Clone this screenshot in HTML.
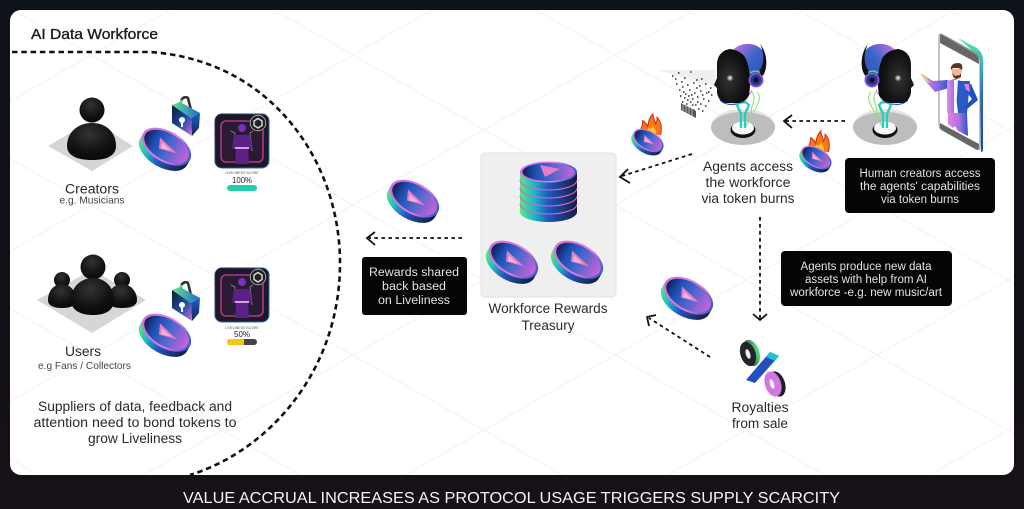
<!DOCTYPE html>
<html><head><meta charset="utf-8"><style>
html,body{margin:0;padding:0;background:#100f15;width:1024px;height:509px;overflow:hidden}
svg{display:block}
text{font-family:"Liberation Sans",sans-serif}
.l{font-size:13.5px;fill:#2a2a2a;text-anchor:middle}
.w{font-size:11.5px;fill:#e2e2e2;text-anchor:middle}
.s{font-size:10.5px;fill:#444;text-anchor:middle}
.d{fill:none;stroke:#111;stroke-width:1.8;stroke-dasharray:3.6 3.4}
.h{fill:none;stroke:#111;stroke-width:1.8}
</style></head><body>
<svg xmlns="http://www.w3.org/2000/svg" width="1024" height="509" viewBox="0 0 1024 509">
<defs>
<linearGradient id="bg" x1="0" y1="0" x2="0" y2="1"><stop offset="0" stop-color="#0e1319"/><stop offset=".55" stop-color="#111015"/><stop offset="1" stop-color="#171118"/></linearGradient>
<linearGradient id="cTop" x1="0" y1="0" x2="1" y2="0"><stop offset="0" stop-color="#121f50"/><stop offset=".25" stop-color="#1c50b4"/><stop offset=".55" stop-color="#4a68cc"/><stop offset="1" stop-color="#d060d8"/></linearGradient>
<linearGradient id="cSide" x1="0" y1="0" x2="1" y2="0"><stop offset="0" stop-color="#5be87a"/><stop offset=".22" stop-color="#22c0c0"/><stop offset=".5" stop-color="#1f58c0"/><stop offset="1" stop-color="#141c3c"/></linearGradient>
<linearGradient id="cRim" x1="0" y1="0" x2="1" y2="0"><stop offset="0" stop-color="#d070e0"/><stop offset=".6" stop-color="#e878e0"/><stop offset="1" stop-color="#2a60d0"/></linearGradient>
<linearGradient id="lock" x1="0" y1="0" x2="1" y2="1"><stop offset="0" stop-color="#101a34"/><stop offset=".55" stop-color="#1c4ea8"/><stop offset="1" stop-color="#d070e0"/></linearGradient>
<linearGradient id="lockR" x1="0" y1="0" x2="0" y2="1"><stop offset="0" stop-color="#2060c8"/><stop offset="1" stop-color="#142450"/></linearGradient>
<linearGradient id="lockT" x1="0" y1="0" x2="1" y2="0"><stop offset="0" stop-color="#60e880"/><stop offset="1" stop-color="#2068d0"/></linearGradient>
<linearGradient id="nb" x1="0" y1="0" x2="1" y2="1"><stop offset="0" stop-color="#2a2a50"/><stop offset="1" stop-color="#3078d8"/></linearGradient>
<linearGradient id="brain" x1="0" y1="0" x2="1" y2="1"><stop offset="0" stop-color="#d070e0"/><stop offset=".45" stop-color="#3c64cc"/><stop offset="1" stop-color="#2248a8"/></linearGradient>
<linearGradient id="ph" x1="0" y1="0" x2="0" y2="1"><stop offset="0" stop-color="#60e890"/><stop offset=".2" stop-color="#20c8c8"/><stop offset=".5" stop-color="#2068d0"/><stop offset="1" stop-color="#1848a8"/></linearGradient>
<linearGradient id="man" x1="0" y1="0" x2="1" y2="0"><stop offset="0" stop-color="#d080e4"/><stop offset=".55" stop-color="#7a68dc"/><stop offset="1" stop-color="#2a58c8"/></linearGradient>
<linearGradient id="pnk" x1="0" y1="0" x2="1" y2="0"><stop offset="0" stop-color="#e090e8"/><stop offset="1" stop-color="#a070e0"/></linearGradient>
<linearGradient id="leg" x1="0" y1="0" x2="1" y2="0"><stop offset="0" stop-color="#e080e8"/><stop offset=".55" stop-color="#b070e0"/><stop offset="1" stop-color="#2058c8"/></linearGradient>
<linearGradient id="pg" x1="0" y1="0" x2="1" y2="0"><stop offset="0" stop-color="#101820"/><stop offset="1" stop-color="#60e880"/></linearGradient>
<radialGradient id="b" cx=".45" cy=".3" r=".8"><stop offset="0" stop-color="#333"/><stop offset=".6" stop-color="#111"/><stop offset="1" stop-color="#050505"/></radialGradient>
<radialGradient id="hd" cx=".42" cy=".55" r=".6"><stop offset="0" stop-color="#333"/><stop offset=".7" stop-color="#141414"/><stop offset="1" stop-color="#0a0a0a"/></radialGradient>
<radialGradient id="gl"><stop offset="0" stop-color="#fff"/><stop offset="1" stop-color="#fff" stop-opacity="0"/></radialGradient>
<pattern id="iso" width="262" height="150" patternUnits="userSpaceOnUse" patternTransform="translate(-40 -20)">
<path d="M0 0L262 150M262 0L0 150" stroke="#f5f5f5" stroke-width="1.4" fill="none"/>
</pattern>
<g id="coin">
<g transform="rotate(30)">
<path d="M-27 -1v6a27 15.500 0 0 0 54 0v-6z" fill="url(#cSide)"/>
<ellipse cx="0" cy="-1" rx="27" ry="15.500" fill="url(#cRim)"/>
<ellipse cx="0" cy="-1" rx="24.500" ry="13.500" fill="url(#cTop)"/>
</g>
<path d="M-6 -10L11 6L-7 1Z" fill="#e67cc8"/>
<path d="M-4 -5L5 3L-5 1Z" fill="#f3b0dc"/>
</g>
<g id="lockg">
<path d="M8 8L10 2Q13 -1 16 1L19 13" fill="none" stroke="#333" stroke-width="2.600"/>
<path d="M8 8L10 3" fill="none" stroke="#60e880" stroke-width="2.600"/>
<path d="M0 8L8 5L28 16L19 21Z" fill="url(#lockT)"/>
<path d="M19 21L28 16L27 31L20 39Z" fill="url(#lockR)"/>
<path d="M0 8L19 21L20 39L0 26Z" fill="url(#lock)"/>
<circle cx="10" cy="23" r="3" fill="#fff"/><rect x="9" y="24" width="2" height="6" fill="#fff"/>
</g>
<g id="nft">
<rect x="0" y="0" width="54" height="54" rx="7" fill="#1c1826" stroke="url(#nb)" stroke-width="1"/>
<rect x="6" y="7" width="42" height="41" rx="5" fill="#2a1a34" stroke="#b0387e" stroke-width="1.600"/>
<path d="M16 17l4 2-1 16M38 17l-3 2 2 18" stroke="#7c7c90" stroke-width="1" fill="none"/>
<circle cx="27" cy="14" r="4" fill="#7a2fb8"/>
<path d="M19 21L35 21L37 34L33 35L34 50L20 50L21 35L17 34Z" fill="#5c2184"/>
<rect x="20" y="33" width="14" height="2" fill="#d8a0e8"/>
<circle cx="43" cy="9" r="8.500" fill="#222"/><circle cx="43" cy="9" r="7.800" fill="none" stroke="#bbb" stroke-width=".8"/>
<path d="M43 4.500L47 7V11.500L43 14L39 11.500V7Z" fill="none" stroke="#ddd" stroke-width="1.400"/>
</g>
<g id="flame">
<path d="M-13 12C-15 4-10 3-11-4C-7-2-6 1-5 3C-4-4-3-8 1-12C1-6 4-5 4 0C6-2 6-5 6-8C11-3 12 4 10 13Z" fill="#f07a18"/>
<path d="M-7 13C-8 8-5 6-4 4C-2 7 0 5 1 2C3 6 6 7 4 14Z" fill="#ffc030"/>
<path d="M-13 12C-15 4-10 3-11-4C-7-2-6 1-5 3C-4-4-3-8 1-12C1-6 4-5 4 0C6-2 6-5 6-8C11-3 12 4 10 13" fill="none" stroke="#d82818" stroke-width="1.200"/>
</g>
<g id="agent">
<ellipse cx="743" cy="127" rx="32" ry="18" fill="#bdbdbd"/>
<path d="M711 127A32 18 0 0 1 775 127A32 15 0 0 0 711 127Z" fill="#e4e4e4"/>
<ellipse cx="743" cy="130" rx="12.500" ry="8" fill="#111"/>
<ellipse cx="743" cy="128" rx="11" ry="6.500" fill="#f8f8f8"/>
<path d="M720 100c5 5 12 6 24 2" fill="none" stroke="#2a60d0" stroke-width="1.200"/>
<path d="M752 92c6 8-3 14 0 22c-2 6-4 8-6 12M757 92c6 6-1 14-3 20" fill="none" stroke="#90e070" stroke-width="1.100"/>
<path d="M752 90c-2 6-8 8-8 14" fill="none" stroke="#d070e0" stroke-width="1"/>
<path d="M741 128V114L737 105L744 99L738 93M745 128V114L749 105L742 99L749 93" fill="none" stroke="#22d0c0" stroke-width="2.300"/>
<path d="M733 50C740 42 756 41 764 52C767 60 766 68 762 74L745 88L735 84Z" fill="url(#brain)"/>
<path d="M760 44C767 52 768 66 764 74C761 78 758 80 752 82L760 70C765 62 764 52 760 44Z" fill="#111"/>
<path d="M730 49C738 50 745 54 747 62C750 70 751 84 749 95C747 100 743 102 739 103L725 103C721 102 718 98 717 93L717 88L714 85L717 78L717 65C717 55 723 50 730 49Z" fill="url(#hd)"/>
<circle cx="730" cy="78" r="3.500" fill="url(#gl)"/>
<circle cx="756" cy="80" r="7.500" fill="#8a50d0"/>
<circle cx="756" cy="80" r="5.500" fill="#1f3c98"/>
<circle cx="756" cy="80" r="2.600" fill="#111"/>
<path d="M750 73a8.500 8.500 0 0 1 10-.5" stroke="#50e080" stroke-width="1.400" fill="none"/>
</g>
</defs>

<rect width="1024" height="509" fill="url(#bg)"/>
<rect x="10" y="10" width="1004" height="465" rx="11" fill="#fff"/>
<rect x="10" y="10" width="1004" height="465" rx="11" fill="url(#iso)"/>

<path d="M12 52H150C270 60 340 160 340 263C340 370 270 450 190 475" fill="none" stroke="#111" stroke-width="2.600" stroke-dasharray="5.500 3.800"/>

<text x="31" y="39" font-size="14.5" fill="#1c1c1c" stroke="#1c1c1c" stroke-width=".35" textLength="127" lengthAdjust="spacingAndGlyphs">AI Data Workforce</text>

<!-- creators -->
<path d="M48 146L92 120L133 146L92 171Z" fill="#d6d6d6"/>
<circle cx="92" cy="110" r="12.500" fill="url(#b)"/>
<path d="M67 146C67 132 78 123 92 123C106 123 116 132 116 146C116 155 108 160 92 160C76 160 67 155 67 146Z" fill="url(#b)"/>
<text class="l" x="92" y="193.500" textLength="54" lengthAdjust="spacingAndGlyphs">Creators</text>
<text class="s" x="92" y="203.500" textLength="65" lengthAdjust="spacingAndGlyphs">e.g. Musicians</text>
<use href="#lockg" x="172" y="97"/>
<use href="#coin" x="166" y="147.500"/>
<use href="#nft" x="215" y="114"/>
<text x="242" y="174" font-size="3.500" fill="#555" text-anchor="middle">LIVELINESS SCORE</text>
<text x="242" y="183" font-size="8" fill="#222" text-anchor="middle" textLength="20" lengthAdjust="spacingAndGlyphs">100%</text>
<rect x="227" y="185" width="30" height="6" rx="3" fill="#1fd0a8"/>

<!-- users -->
<path d="M37 300L92 270L146 300L92 333Z" fill="#d6d6d6"/>
<circle cx="62" cy="280" r="8" fill="url(#b)"/>
<circle cx="122" cy="280" r="8" fill="url(#b)"/>
<path d="M48 300C48 291 54 284 62 284C70 284 76 291 76 300C76 306 70 308 62 308C54 308 48 306 48 300Z" fill="url(#b)"/>
<path d="M108 300C108 291 114 284 122 284C130 284 137 291 137 300C137 306 130 308 122 308C114 308 108 306 108 300Z" fill="url(#b)"/>
<circle cx="93" cy="267" r="12.500" fill="url(#b)"/>
<path d="M71 300C71 287 81 278 93 278C105 278 114 287 114 300C114 310 106 315 93 315C80 315 71 310 71 300Z" fill="url(#b)"/>
<text class="l" x="83" y="356" textLength="36" lengthAdjust="spacingAndGlyphs">Users</text>
<text class="s" x="84.500" y="369" textLength="93" lengthAdjust="spacingAndGlyphs">e.g Fans / Collectors</text>
<use href="#lockg" x="172" y="282"/>
<use href="#coin" x="166" y="333.500"/>
<use href="#nft" x="215" y="268"/>
<text x="242" y="329" font-size="3.500" fill="#555" text-anchor="middle">LIVELINESS SCORE</text>
<text x="242" y="337" font-size="8" fill="#222" text-anchor="middle" textLength="16" lengthAdjust="spacingAndGlyphs">50%</text>
<rect x="227" y="339" width="30" height="6" rx="3" fill="#444"/>
<path d="M230 339H244V345H230A3 3 0 0 1 230 339Z" fill="#f4c518"/>

<text class="l" x="135" y="411" textLength="194" lengthAdjust="spacingAndGlyphs">Suppliers of data, feedback and</text>
<text class="l" x="135" y="427" textLength="203" lengthAdjust="spacingAndGlyphs">attention need to bond tokens to</text>
<text class="l" x="135" y="443" textLength="94" lengthAdjust="spacingAndGlyphs">grow Liveliness</text>

<!-- reward coin & arrow -->
<use href="#coin" x="414" y="199.500"/>
<path class="d" d="M462 238H369"/>
<path class="h" d="M375 232L367 238L375 245"/>
<rect x="362" y="257" width="105" height="58" rx="3" fill="#050505"/>
<text class="w" x="414" y="276" textLength="90" lengthAdjust="spacingAndGlyphs">Rewards shared</text>
<text class="w" x="414" y="290" textLength="64" lengthAdjust="spacingAndGlyphs">back based</text>
<text class="w" x="414" y="304" textLength="72" lengthAdjust="spacingAndGlyphs">on Liveliness</text>

<!-- treasury -->
<rect x="481" y="153" width="135" height="144" rx="4" fill="#efefef" stroke="#e2e2e2"/>
<g>
<path d="M520 172V212A28.500 10 0 0 0 577 212V172Z" fill="url(#cSide)"/>
<path d="M520 180a28.500 10 0 0 0 57 0M520 188a28.500 10 0 0 0 57 0M520 196a28.500 10 0 0 0 57 0M520 204a28.500 10 0 0 0 57 0" fill="none" stroke="#d860d8" stroke-width="1.100"/>
<ellipse cx="548.500" cy="172" rx="28.500" ry="10.500" fill="url(#cRim)"/>
<ellipse cx="548.500" cy="172" rx="26" ry="9" fill="url(#cTop)"/>
<path d="M540 165L560 169L545 177Z" fill="#e67cc8"/>
</g>
<use href="#coin" x="513" y="260.500"/>
<use href="#coin" x="578" y="260.500"/>
<text class="l" x="548" y="313" textLength="119" lengthAdjust="spacingAndGlyphs">Workforce Rewards</text>
<text class="l" x="548" y="330" textLength="53" lengthAdjust="spacingAndGlyphs">Treasury</text>

<!-- burn coin 1 -->
<use href="#flame" transform="translate(652 124) scale(.85)"/>
<use href="#coin" transform="translate(648 141) scale(.62)"/>
<path class="d" d="M692 154L622 176"/>
<path class="h" d="M628 169L620 177L630 183"/>

<!-- particles -->
<path d="M657 70H715V87Z" fill="#efefef"/>
<path d="M672 76h1.500M678 73h1.500M684 78h1.500M690 72h1.500M696 80h1.500M701 79h1.500M676 84h1.500M681 82h1.500M687 85h1.500M693 83h1.500M699 86h1.500M705 84h1.500M710 88h1.500M679 90h1.500M683 92h1.500M689 90h1.500M694 93h1.500M700 91h1.500M706 93h1.500M711 95h1.500M680 96h1.500M684 98h1.500M688 96h1.500M692 99h1.500M697 97h1.500M703 99h1.500M708 101h1.500M682 102h1.500M686 104h1.500M690 102h1.500M695 105h1.500M700 104h1.500M705 106h1.500M683 107h1.500M688 108h1.500M693 110h1.500M698 109h1.500M702 111h1.500M685 94h1.500M691 95h1.500M697 102h1.500M702 95h1.500M687 100h1.500M692 105h1.500M708 92h1.500M675 79h1.500M682 87h1.500M696 88h1.500" stroke="#2c2c2c" stroke-width="1.500" fill="none"/>
<path d="M681 103L696 111V118L681 110Z" fill="#555"/>
<path d="M683 104v7M686 105v8M689 107v8M692 108v8" stroke="#ddd" stroke-width=".7"/>

<use href="#agent"/>
<use href="#agent" transform="matrix(-1 0 0 1 1628 0)"/>

<!-- burn arrow -->
<path class="d" d="M845 121H785"/>
<path class="h" d="M792 115L784 121L792 128"/>
<use href="#flame" transform="translate(820 141) scale(.85)"/>
<use href="#coin" transform="translate(816 158) scale(.62)"/>

<!-- phone -->
<path d="M958 38L975 47Q982 51 983 58V149Q983 152 981 152L980 62Q979 56 974 52Z" fill="url(#ph)"/>
<path d="M942 34.500L976 53Q980 56 980 61V147Q980 151 976 149L942 130Q939 128 939 125V37Q939 33 942 34.500Z" fill="#fff" stroke="#8a8a8a" stroke-width="1"/>
<path d="M942 35L976 54Q979 56 979 61V64L940 43V37Q940 34 942 35Z" fill="#666"/>
<path d="M940 123L979 144V147Q979 150 976 149L942 130Q940 129 940 126Z" fill="#666"/>
<!-- man -->
<path d="M927 77L933 81L948 80L949 88L935 92L927 83Z" fill="url(#man)"/>
<path d="M920 73L926 76L930 83L926 82Z" fill="#f0b898"/>
<path d="M948 113H967L968 136L958 131L955 126L953 128L948 124Z" fill="url(#leg)"/>
<path d="M947 81L954 79V113H947Z" fill="url(#pnk)"/>
<path d="M954 79L961 81L970 81L967 113H958Z" fill="#2a58c8"/>
<path d="M954 80H958L956 112L954 110Z" fill="#f4f4f4"/>
<path d="M965 83L971 84L978 100L966 110L964 107L972 99L965 90Z" fill="#2050c0"/>
<path d="M964 84L969 84L970 92L966 90Z" fill="#d880e0"/>
<path d="M952 69L962 68L961 76L956 80L952 75Z" fill="#efb898"/>
<path d="M951 70C950 65 954 63 958 63C962 63 963 66 962 70L959 68L953 68Z" fill="#5a3520"/>
<path d="M952 73L955 76L960 75L961 73V77L957 79L954 78Z" fill="#5a3520"/>

<rect x="845" y="158" width="150" height="55" rx="4" fill="#050505"/>
<text class="w" x="920" y="177" textLength="121" lengthAdjust="spacingAndGlyphs">Human creators access</text>
<text class="w" x="920" y="190" textLength="120" lengthAdjust="spacingAndGlyphs">the agents' capabilities</text>
<text class="w" x="920" y="203" textLength="78" lengthAdjust="spacingAndGlyphs">via token burns</text>

<text class="l" x="748" y="171" textLength="90" lengthAdjust="spacingAndGlyphs">Agents access</text>
<text class="l" x="748" y="187" textLength="85" lengthAdjust="spacingAndGlyphs">the workforce</text>
<text class="l" x="748" y="203" textLength="93" lengthAdjust="spacingAndGlyphs">via token burns</text>

<!-- down arrow -->
<path class="d" d="M760 217V319"/>
<path class="h" d="M753 314L760 320L767 314"/>
<rect x="781" y="251" width="171" height="55" rx="4" fill="#050505"/>
<text class="w" x="866" y="270" textLength="131" lengthAdjust="spacingAndGlyphs">Agents produce new data</text>
<text class="w" x="866" y="283" textLength="122" lengthAdjust="spacingAndGlyphs">assets with help from AI</text>
<text class="w" x="866" y="296" textLength="152" lengthAdjust="spacingAndGlyphs">workforce -e.g. new music/art</text>

<!-- royalties -->
<use href="#coin" x="688" y="296.500"/>
<path class="d" d="M710 357L649 318"/>
<path class="h" d="M656 315L647 317L649 326"/>
<g>
<ellipse cx="751" cy="353" rx="8.500" ry="13.500" transform="rotate(-18 751 353)" fill="url(#pg)"/>
<ellipse cx="748" cy="354" rx="7.500" ry="12.500" transform="rotate(-18 748 354)" fill="#23242e"/>
<ellipse cx="748" cy="354" rx="2.200" ry="5" transform="rotate(-18 748 354)" fill="#eee"/>
<path d="M746 380L770 352L779 356L755 383Z" fill="#2350c0"/>
<path d="M770 352L779 356L775 361L766 357Z" fill="#20c0c8"/>
<ellipse cx="777" cy="384" rx="8" ry="13" transform="rotate(-18 777 384)" fill="#1a1f2c"/>
<ellipse cx="773" cy="384" rx="8" ry="13" transform="rotate(-18 773 384)" fill="#d278e0"/>
<ellipse cx="772" cy="384" rx="2.200" ry="5" transform="rotate(-18 772 384)" fill="#eee"/>
</g>
<text class="l" x="760" y="412" textLength="57" lengthAdjust="spacingAndGlyphs">Royalties</text>
<text class="l" x="760" y="428" textLength="56" lengthAdjust="spacingAndGlyphs">from sale</text>

<text x="511.500" y="503" font-size="16" fill="#f4f4f4" text-anchor="middle" textLength="657" lengthAdjust="spacingAndGlyphs">VALUE ACCRUAL INCREASES AS PROTOCOL USAGE TRIGGERS SUPPLY SCARCITY</text>
</svg>
</body></html>
